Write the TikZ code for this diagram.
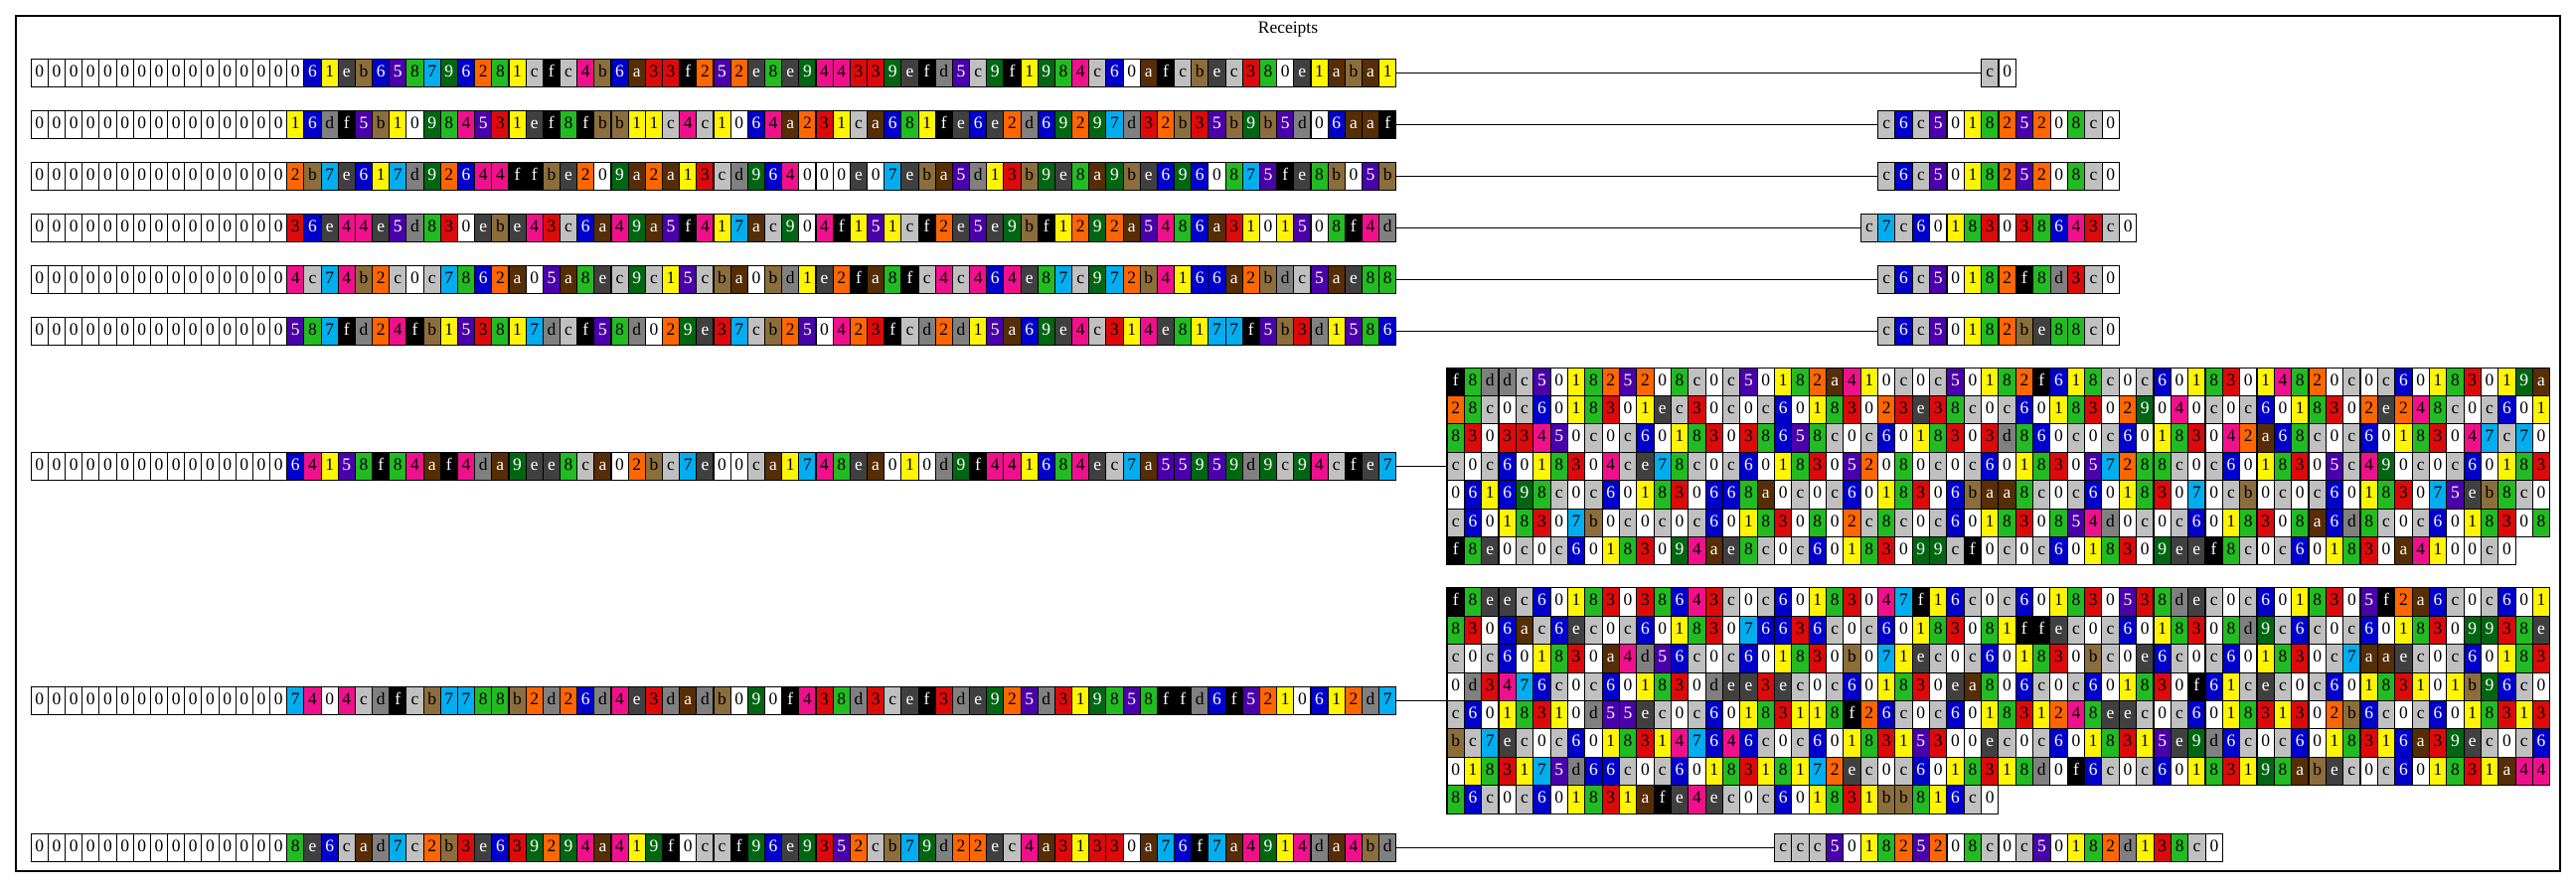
\documentclass[tikz,border=0pt]{standalone}
\usepackage{fontspec}
\setmainfont{Liberation Serif}
\usepackage{tikz}

\definecolor{hex0}{HTML}{FFFFFF}
\definecolor{hex1}{HTML}{FFF500}
\definecolor{hex2}{HTML}{FF6600}
\definecolor{hex3}{HTML}{DC0A0A}
\definecolor{hex4}{HTML}{F0108C}
\definecolor{hex5}{HTML}{4A00AA}
\definecolor{hex6}{HTML}{0000CC}
\definecolor{hex7}{HTML}{00AEEF}
\definecolor{hex8}{HTML}{22BB22}
\definecolor{hex9}{HTML}{006612}
\definecolor{hexa}{HTML}{562D05}
\definecolor{hexb}{HTML}{8C6D3C}
\definecolor{hexc}{HTML}{C0C0C0}
\definecolor{hexd}{HTML}{808080}
\definecolor{hexe}{HTML}{404040}
\definecolor{hexf}{HTML}{000000}
\colorlet{hexfg0}{black}\colorlet{hexfg1}{black}\colorlet{hexfg2}{black}\colorlet{hexfg3}{black}
\colorlet{hexfg4}{black}\colorlet{hexfg5}{white}\colorlet{hexfg6}{white}\colorlet{hexfg7}{black}
\colorlet{hexfg8}{black}\colorlet{hexfg9}{white}\colorlet{hexfga}{white}\colorlet{hexfgb}{black}
\colorlet{hexfgc}{black}\colorlet{hexfgd}{black}\colorlet{hexfge}{white}\colorlet{hexfgf}{white}

\tikzset{
  hexbox/.style={draw, line width=1.1pt, inner sep=0pt, outer sep=0pt,
    minimum height=28.4pt, text height=12.2pt, text depth=4.8pt,
    font=\fontsize{17.5}{20}\selectfont},
  wire/.style={line width=1pt}
}

% one row of hex cells: name, left x, y, cell width, digits
\newcount\hexidx
\newcommand\hexrow[5]{\def\hexname{#1}\def\hexleft{#2}\def\hexy{#3}\def\hexw{#4}%
  \global\hexidx=0 \hexnext#5\relax}
\def\hexnext#1{\ifx#1\relax\else\hexcell{#1}\expandafter\hexnext\fi}
\newcommand\hexcell[1]{\global\advance\hexidx by 1
  \node[hexbox, minimum width=\hexw pt, fill=hex#1, text=hexfg#1]
    (\hexname-\the\hexidx) at ({\hexleft+(\the\hexidx-0.5)*\hexw}, \hexy) {#1};}

\begin{document}
\begin{tikzpicture}[x=1pt, y=-1pt]
			\useasboundingbox (0,0) rectangle (2592,893);
			% Cluster, keys, values and wires:
			\draw[line width=1.2pt] (16,16) rectangle (2576,877);
			\node[font=\fontsize{17.5}{20}\selectfont] (title) at (1296,30) {Receipts};
			\hexrow{l1}{31.2}{73.5}{17.17}{000000000000000061eb658796281cfc4b6a33f252e8e944339efd5c9f1984c60afcbec380e1aba1}
			\hexrow{l2}{31.2}{125.5}{17.17}{00000000000000016df5b10984531ef8fbb11c4c1064a231ca681fe6e2d69297d32b35b9b5d06aaf}
			\hexrow{l3}{31.2}{177.5}{17.17}{0000000000000002b7e617d92644ffbe209a2a13cd964000e07eba5d13b9e8a9be6960875fe8b05b}
			\hexrow{l4}{31.2}{229.5}{17.17}{00000000000000036e44e5d830ebe43c6a49a5f417ac904f151cf2e5e9bf1292a5486a3101508f4d}
			\hexrow{l5}{31.2}{281.5}{17.17}{0000000000000004c74b2c0c7862a05a8ec9c15cba0bd1e2fa8fc4c464e87c972b4166a2bdc5ae88}
			\hexrow{l6}{31.2}{333.5}{17.17}{000000000000000587fd24fb153817dcf58d029e37cb250423fcd2d15a69e4c314e8177f5b3d1586}
			\hexrow{l7}{31.2}{469.5}{17.17}{00000000000000064158f84af4da9ee8ca02bc7e00ca1748ea010d9f441684ec7a55959d9c94cfe7}
			\hexrow{l8}{31.2}{705.5}{17.17}{0000000000000007404cdfcb7788b2d26d4e3dadb090f438d3cef3de925d319858ffd6f5210612d7}
			\hexrow{l9}{31.2}{853.5}{17.17}{0000000000000008e6cad7c2b3e639294a419f0ccf96e9352cb79d22ec4a31330a76f7a4914da4bd}
			\hexrow{r1}{1993.65}{73.5}{17.35}{c0}
			\hexrow{r2}{1889.55}{125.5}{17.35}{c6c501825208c0}
			\hexrow{r3}{1889.55}{177.5}{17.35}{c6c501825208c0}
			\hexrow{r4}{1872.2}{229.5}{17.35}{c7c60183038643c0}
			\hexrow{r5}{1889.55}{281.5}{17.35}{c6c50182f8d3c0}
			\hexrow{r6}{1889.55}{333.5}{17.35}{c6c50182be88c0}
			\hexrow{b1l1}{1456}{384.3}{17.34}{f8ddc501825208c0c50182a410c0c50182f618c0c60183014820c0c60183019a}
			\hexrow{b1l2}{1456}{412.7}{17.34}{28c0c6018301ec30c0c60183023e38c0c60183029040c0c6018302e248c0c601}
			\hexrow{b1l3}{1456}{441.1}{17.34}{83033450c0c60183038658c0c6018303d860c0c60183042a68c0c60183047c70}
			\hexrow{b1l4}{1456}{469.5}{17.34}{c0c6018304ce78c0c60183052080c0c60183057288c0c6018305c490c0c60183}
			\hexrow{b1l5}{1456}{497.9}{17.34}{061698c0c601830668a0c0c6018306baa8c0c60183070cb0c0c60183075eb8c0}
			\hexrow{b1l6}{1456}{526.3}{17.34}{c6018307b0c0c0c601830802c8c0c601830854d0c0c6018308a6d8c0c6018308}
			\hexrow{b1l7}{1456}{554.7}{17.34}{f8e0c0c60183094ae8c0c60183099cf0c0c6018309eef8c0c601830a4100c0}
			\hexrow{b2l1}{1456}{606.1}{17.34}{f8eec60183038643c0c60183047f16c0c601830538dec0c6018305f2a6c0c601}
			\hexrow{b2l2}{1456}{634.5}{17.34}{8306ac6ec0c60183076636c0c60183081ffec0c6018308d9c6c0c6018309938e}
			\hexrow{b2l3}{1456}{662.9}{17.34}{c0c601830a4d56c0c601830b071ec0c601830bc0e6c0c601830c7aaec0c60183}
			\hexrow{b2l4}{1456}{691.3}{17.34}{0d3476c0c601830dee3ec0c601830ea806c0c601830f61cec0c60183101b96c0}
			\hexrow{b2l5}{1456}{719.7}{17.34}{c6018310d55ec0c60183118f26c0c601831248eec0c601831302b6c0c6018313}
			\hexrow{b2l6}{1456}{748.1}{17.34}{bc7ec0c60183147646c0c6018315300ec0c6018315e9d6c0c6018316a39ec0c6}
			\hexrow{b2l7}{1456}{776.5}{17.34}{0183175d66c0c6018318172ec0c6018318d0f6c0c60183198abec0c601831a44}
			\hexrow{b2l8}{1456}{804.9}{17.34}{86c0c601831afe4ec0c601831bb816c0}
			\hexrow{r9}{1785.45}{853.5}{17.35}{ccc501825208c0c50182d138c0}
			\draw[wire] (l1-80.east) -- (r1-1.west);
			\draw[wire] (l2-80.east) -- (r2-1.west);
			\draw[wire] (l3-80.east) -- (r3-1.west);
			\draw[wire] (l4-80.east) -- (r4-1.west);
			\draw[wire] (l5-80.east) -- (r5-1.west);
			\draw[wire] (l6-80.east) -- (r6-1.west);
			\draw[wire] (l7-80.east) -- (b1l4-1.west);
			\draw[wire] (l8-80.east) -- (b2l4-1.south west);
			\draw[wire] (l9-80.east) -- (r9-1.west);
		\end{tikzpicture}
\end{document}
